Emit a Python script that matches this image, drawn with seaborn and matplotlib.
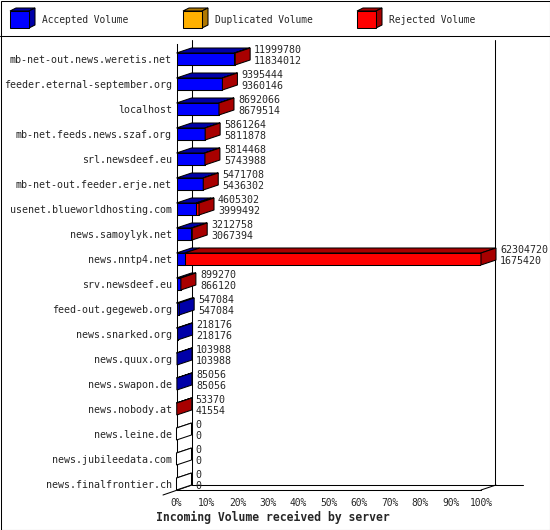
import matplotlib
matplotlib.use("Agg")
import matplotlib.pyplot as plt
from matplotlib.patches import Polygon, Rectangle
from matplotlib.lines import Line2D
from matplotlib.transforms import IdentityTransform
import seaborn as sns
import pandas as pd

# ---------------- data ----------------
servers = [
    "mb-net-out.news.weretis.net",
    "feeder.eternal-september.org",
    "localhost",
    "mb-net.feeds.news.szaf.org",
    "srl.newsdeef.eu",
    "mb-net-out.feeder.erje.net",
    "usenet.blueworldhosting.com",
    "news.samoylyk.net",
    "news.nntp4.net",
    "srv.newsdeef.eu",
    "feed-out.gegeweb.org",
    "news.snarked.org",
    "news.quux.org",
    "news.swapon.de",
    "news.nobody.at",
    "news.leine.de",
    "news.jubileedata.com",
    "news.finalfrontier.ch",
]
total_volume = [11999780, 9395444, 8692066, 5861264, 5814468, 5471708, 4605302,
                3212758, 62304720, 899270, 547084, 218176, 103988, 85056, 53370,
                0, 0, 0]
accepted_volume = [11834012, 9360146, 8679514, 5811878, 5743988, 5436302, 3999492,
                   3067394, 1675420, 866120, 547084, 218176, 103988, 85056, 41554,
                   0, 0, 0]
legend_labels = ["Accepted Volume", "Duplicated Volume", "Rejected Volume"]
tick_labels = ["0%", "10%", "20%", "30%", "40%", "50%", "60%", "70%", "80%", "90%", "100%"]
xlabel_text = "Incoming Volume received by server"

# ---------------- style ----------------
BLUE, DBLUE = "#0000ff", "#0000a8"
ORANGE, DORANGE = "#ffb000", "#b07800"
RED, DRED = "#ff0000", "#a80000"
FONT = "DejaVu Sans Mono"
LW = 0.75

sns.set_style("white")
plt.rcParams["font.family"] = [FONT, "DejaVu Sans"]

W, H = 550, 530
fig = plt.figure(figsize=(W / 100, H / 100), dpi=100)
fig.patch.set_facecolor("white")

def P(x, y):
    """image pixel -> display coords"""
    return (x, H - y)

X0, X1 = 176.5, 481.0      # front plane 0% .. 100%
YT, YB = 44.0, 490.0       # axes top / bottom (pixels)
ax = fig.add_axes([X0 / W, 1 - YB / H, (X1 - X0) / W, (YB - YT) / H])
ax.patch.set_visible(False)

df = pd.DataFrame({"server": servers, "total": total_volume, "accepted": accepted_volume})
sns.barplot(data=df, x="total", y="server", orient="h", order=servers, color=RED,
            saturation=1, width=0.48, edgecolor="black", linewidth=LW,
            errorbar=None, ax=ax, zorder=3)
sns.barplot(data=df, x="accepted", y="server", orient="h", order=servers, color=BLUE,
            saturation=1, width=0.48, edgecolor="black", linewidth=LW,
            errorbar=None, ax=ax, zorder=4)

vmax = max(total_volume)
ax.set_xlim(0, vmax)
ax.set_ylim(17.24, -0.6)
ax.set_xticks([vmax * k / 10 for k in range(11)])
ax.set_xticklabels(tick_labels, fontsize=6.9, family=FONT)
ax.tick_params(axis="x", direction="out", length=3.6, width=LW, pad=2.2, color="black")
ax.tick_params(axis="y", length=0, pad=3.3, labelsize=7.2)
for t in ax.get_yticklabels():
    t.set_family(FONT)
ax.set_xlabel("")
ax.set_ylabel("")
for s in ["top", "right"]:
    ax.spines[s].set_visible(False)
for s in ["left", "bottom"]:
    ax.spines[s].set_linewidth(LW)
    ax.spines[s].set_color("black")
    ax.spines[s].set_zorder(2)

# ---------------- back wall / floor frame ----------------
ident = IdentityTransform()
def line(pts, z=0.5):
    xs = [P(*p)[0] for p in pts]
    ys = [P(*p)[1] for p in pts]
    ax.add_line(Line2D(xs, ys, transform=ident, color="black", lw=LW,
                       zorder=z, clip_on=False))

line([(192, 40), (192, 485)])
line([(495, 40), (495, 485)])
line([(192, 485), (523, 485)])
line([(163, 495), (192, 485)])
line([(481, 490), (496, 485)])

# ---------------- 3D faces ----------------
DX, DY = 15, 5
HALF = 6
def poly(pts, fc, z=5):
    ax.add_patch(Polygon(pts, closed=True, transform=ident, facecolor=fc,
                         edgecolor="black", lw=LW, joinstyle="miter",
                         zorder=z, clip_on=False))

for i, (tot, acc) in enumerate(zip(total_volume, accepted_volume)):
    x0, yc = ax.transData.transform((0, i))
    xa = ax.transData.transform((acc, i))[0]
    xt = ax.transData.transform((tot, i))[0]
    top, bot = yc + HALF, yc - HALF
    if acc > 0:
        poly([(x0, top), (xa, top), (xa + DX, top + DY), (x0 + DX, top + DY)], DBLUE)
    if tot > acc:
        poly([(xa, top), (xt, top), (xt + DX, top + DY), (xa + DX, top + DY)], DRED)
    if tot == 0:
        poly([(x0, top), (x0 + DX, top + DY)], "white")
    end_fc = DRED if tot > acc else (DBLUE if tot > 0 else "white")
    poly([(xt, top), (xt, bot), (xt + DX, bot + DY), (xt + DX, top + DY)], end_fc)
    ax.annotate(f"{tot}", xy=(tot, i), xytext=(19, 9.5), textcoords="offset pixels",
                ha="left", va="center", fontsize=7.2, family=FONT, annotation_clip=False)
    ax.annotate(f"{acc}", xy=(tot, i), xytext=(19, -1.5), textcoords="offset pixels",
                ha="left", va="center", fontsize=7.2, family=FONT, annotation_clip=False)

# ---------------- legend ----------------
legend_colors = [(BLUE, DBLUE), (ORANGE, DORANGE), (RED, DRED)]
legend_x = [10, 183, 357]
for (fc, dc), lx, lab in zip(legend_colors, legend_x, legend_labels):
    bx0, bx1, by0, by1 = lx, lx + 19, 11, 28
    ddx, ddy = 6, 3
    fig.add_artist(Polygon([P(bx0, by0), P(bx1, by0), P(bx1 + ddx, by0 - ddy), P(bx0 + ddx, by0 - ddy)],
                           closed=True, transform=ident, facecolor=dc, edgecolor="black", lw=LW))
    fig.add_artist(Polygon([P(bx1, by0), P(bx1, by1), P(bx1 + ddx, by1 - ddy), P(bx1 + ddx, by0 - ddy)],
                           closed=True, transform=ident, facecolor=dc, edgecolor="black", lw=LW))
    fig.add_artist(Polygon([P(bx0, by0), P(bx1, by0), P(bx1, by1), P(bx0, by1)],
                           closed=True, transform=ident, facecolor=fc, edgecolor="black", lw=LW))
    fig.text((lx + 32) / W, 1 - 20 / H, lab, ha="left", va="center",
             fontsize=6.9, family=FONT)

fig.add_artist(Line2D([0, W], [H - 35.5, H - 35.5], transform=ident, color="black", lw=LW))
fig.add_artist(Rectangle((0.5, 0.5), W - 1, H - 1, transform=ident, fill=False,
                         edgecolor="black", lw=LW))

fig.text(156 / W, 1 - 517 / H, xlabel_text, ha="left", va="center",
         fontsize=8.3, family=FONT, fontweight="bold")

fig.savefig("out.png", dpi=100, facecolor="white")
